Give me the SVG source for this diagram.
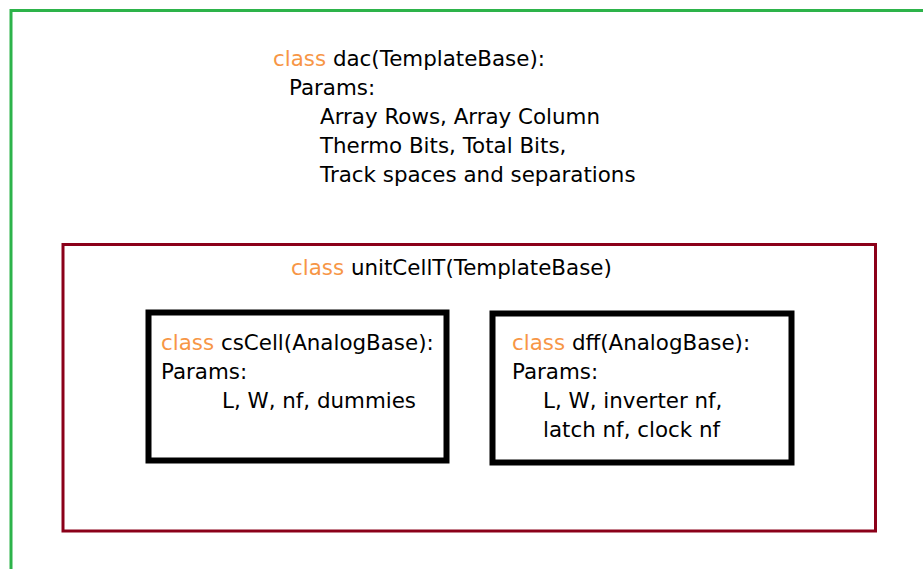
<svg xmlns="http://www.w3.org/2000/svg" width="923" height="569" viewBox="0 0 923 569">
<style>
text{font-family:"DejaVu Sans","Verdana",sans-serif;font-size:21.4px;fill:#000}
.k{fill:#f79646}
.outer{fill:none;stroke:#2db34a;stroke-width:3}
.mid{fill:none;stroke:#8b0019;stroke-width:3}
.inner{fill:none;stroke:#000;stroke-width:6}
</style>
<rect width="923" height="569" fill="#fff"/>
<g id="dac">
<path class="outer" d="M11,569 V10.5 H923"/>
<text x="273" y="66"><tspan class="k">class</tspan> dac(TemplateBase):</text>
<text x="289" y="95">Params:</text>
<text x="320" y="124">Array Rows, Array Column</text>
<text x="320" y="153">Thermo Bits, Total Bits,</text>
<text x="320" y="182">Track spaces and separations</text>
</g>
<g id="unitCellT">
<rect class="mid" x="63" y="244.5" width="812.5" height="286.5"/>
<text x="291" y="275"><tspan class="k">class</tspan> unitCellT(TemplateBase)</text>
</g>
<g id="csCell">
<rect class="inner" x="148.5" y="312.5" width="298" height="148"/>
<text x="161" y="350"><tspan class="k">class</tspan> csCell(AnalogBase):</text>
<text x="161" y="379">Params:</text>
<text x="222" y="408">L, W, nf, dummies</text>
</g>
<g id="dff">
<rect class="inner" x="492.5" y="313.5" width="299" height="149"/>
<text x="512" y="350"><tspan class="k">class</tspan> dff(AnalogBase):</text>
<text x="512" y="379">Params:</text>
<text x="543" y="408">L, W, inverter nf,</text>
<text x="543" y="437">latch nf, clock nf</text>
</g>
<g id="connectors"></g>
</svg>
